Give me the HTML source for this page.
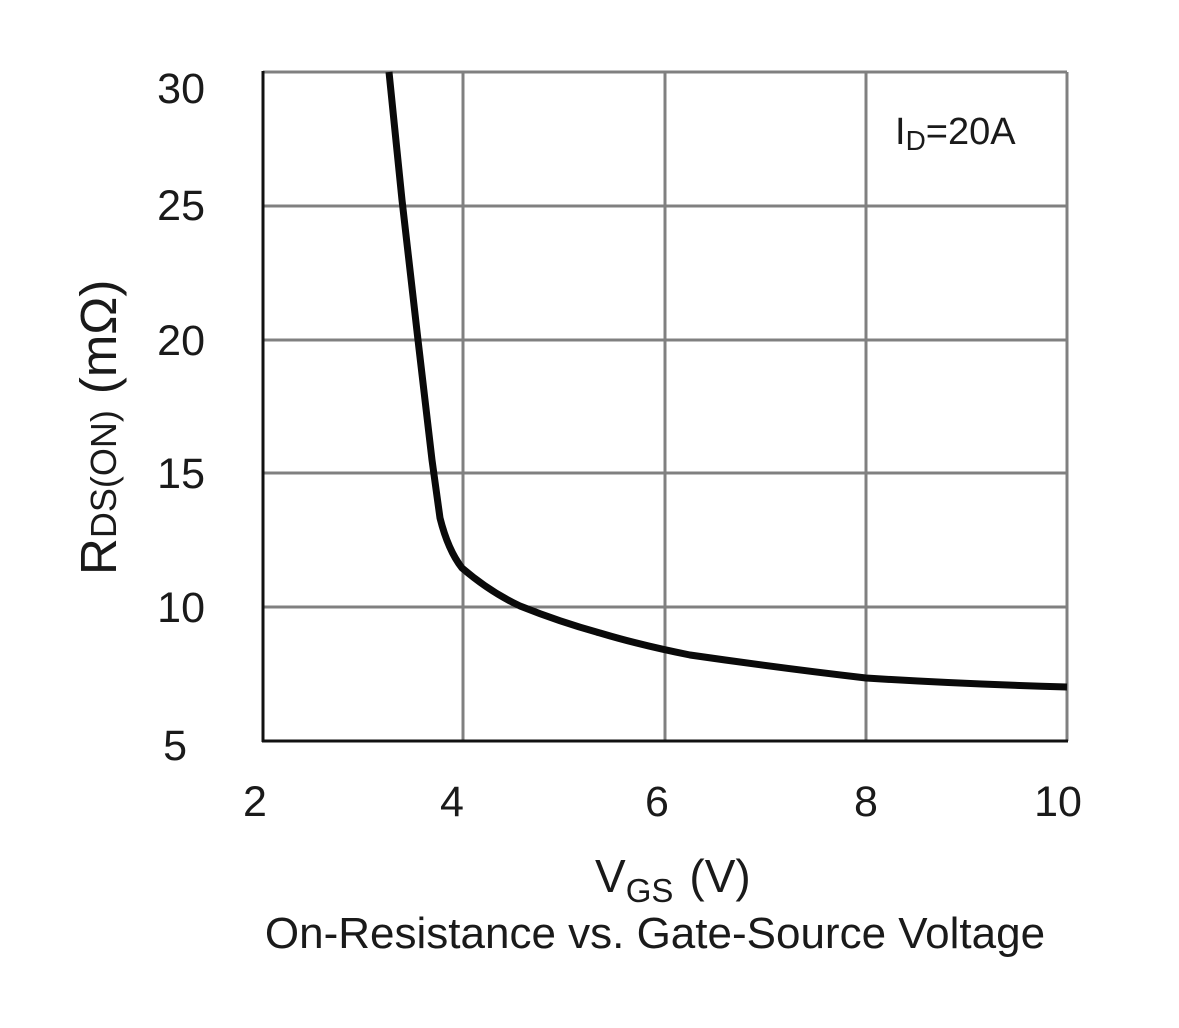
<!DOCTYPE html>
<html><head><meta charset="utf-8"><style>body{margin:0;background:#fff}</style></head><body>
<svg width="1179" height="1023" xmlns="http://www.w3.org/2000/svg" font-family="Liberation Sans, sans-serif" fill="#1a1a1a">
<rect width="1179" height="1023" fill="#fff"/>
<g stroke="#808080" stroke-width="3">
<line x1="463" y1="72" x2="463" y2="741"/><line x1="665" y1="72" x2="665" y2="741"/><line x1="866" y1="72" x2="866" y2="741"/><line x1="1067" y1="72" x2="1067" y2="741"/>
<line x1="263" y1="72" x2="1067" y2="72"/><line x1="263" y1="206" x2="1067" y2="206"/><line x1="263" y1="340" x2="1067" y2="340"/><line x1="263" y1="473" x2="1067" y2="473"/><line x1="263" y1="607" x2="1067" y2="607"/>
</g>
<g stroke="#111" stroke-width="3"><line x1="263" y1="71" x2="263" y2="742"/><line x1="262" y1="741" x2="1068" y2="741"/></g>
<path fill="none" stroke="#0a0a0a" stroke-width="7" stroke-linejoin="round" d="M389,72 L402,200 L418,340 L432,460 L440,518 Q448,550 462,568 Q490,592 520,606 Q560,622 600,633 Q640,645 690,655 Q780,668 866,678 Q960,684 1067,687"/>
<g font-size="43" text-anchor="end">
<text x="205" y="103">30</text><text x="205" y="220">25</text><text x="205" y="355">20</text><text x="205" y="488">15</text><text x="205" y="622">10</text><text x="187" y="760">5</text>
</g>
<g font-size="43" text-anchor="middle">
<text x="255" y="816">2</text><text x="452" y="816">4</text><text x="657" y="816">6</text><text x="866" y="816">8</text><text x="1058" y="816">10</text>
</g>
<text x="895" y="144" font-size="38">I<tspan font-size="28" dy="6">D</tspan><tspan dy="-6">=20A</tspan></text>
<text transform="translate(116,575) rotate(-90)" font-size="51">R<tspan font-size="36">DS(ON)</tspan><tspan dx="16">(mΩ)</tspan></text>
<text x="595" y="892" font-size="46">V<tspan font-size="33" dy="10">GS</tspan><tspan dy="-10" dx="16">(V)</tspan></text>
<text x="655" y="948" font-size="44" text-anchor="middle">On-Resistance vs. Gate-Source Voltage</text>
</svg>
</body></html>
